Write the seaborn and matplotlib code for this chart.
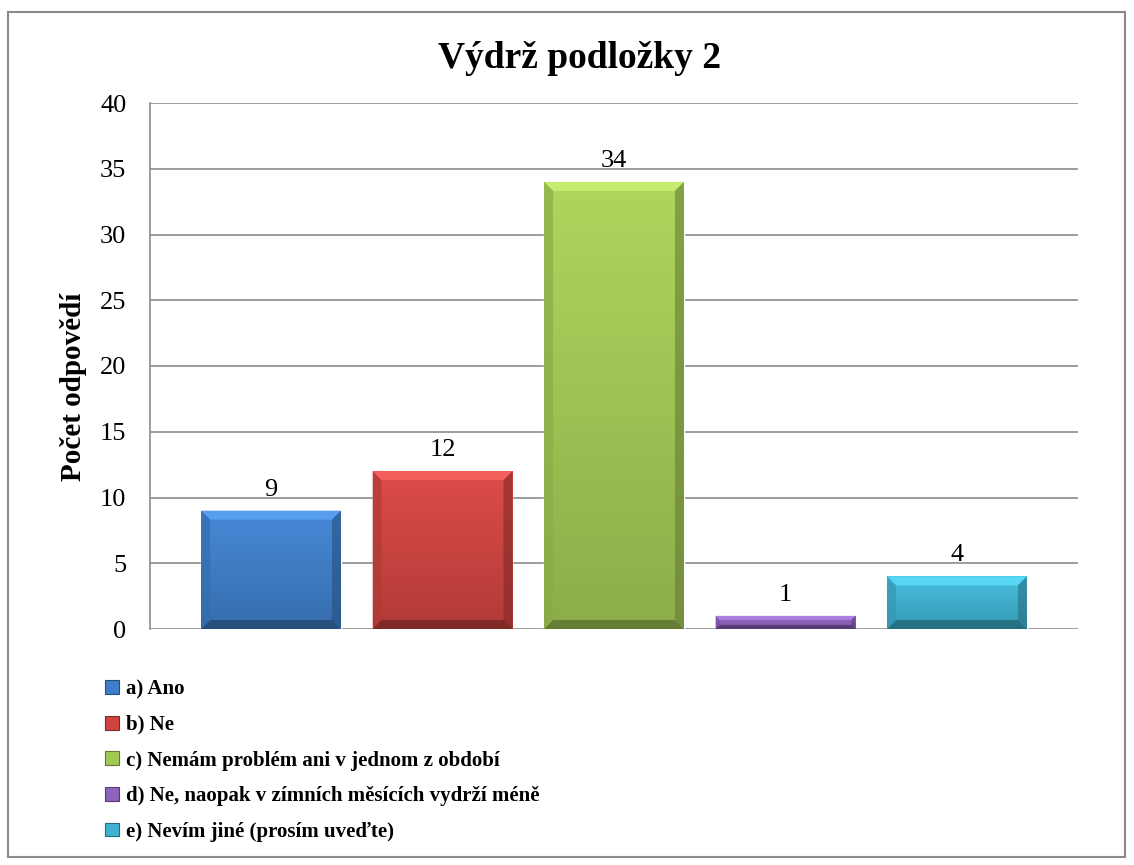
import numpy as np
import pandas as pd
import matplotlib
matplotlib.use("Agg")
import matplotlib.pyplot as plt
from matplotlib.patches import Polygon, Rectangle, Patch
import matplotlib.colors as mcolors
import seaborn as sns

# Survey answers and counts
categories = [
    "a) Ano",
    "b) Ne",
    "c) Nemám problém ani v jednom z období",
    "d) Ne, naopak v zímních měsících vydrží méně",
    "e) Nevím jiné (prosím uveďte)",
]
counts = [9, 12, 34, 1, 4]
colors = ["#3F7FCA", "#CF4441", "#A3C955", "#8E63BE", "#3FB3D1"]
yticks = [0, 5, 10, 15, 20, 25, 30, 35, 40]

title = "Výdrž podložky 2"
ylabel = "Počet odpovědí"

sns.set_theme(style="white")
plt.rcParams["font.family"] = ["Liberation Serif", "DejaVu Serif"]
plt.rcParams["text.color"] = "black"
plt.rcParams["axes.labelcolor"] = "black"
plt.rcParams["ytick.color"] = "black"

df = pd.DataFrame({"cat": categories, "n": counts})

fig = plt.figure(figsize=(11.34, 8.65), dpi=100)
ax = fig.add_axes([150 / 1134, 236 / 865, 928 / 1134, 526 / 865])

sns.barplot(data=df, x="cat", y="n", hue="cat", palette=colors,
            width=0.816, legend=False, ax=ax, saturation=1)

ax.set_xlim(-0.706, 4.706)
ax.set_ylim(0, 40)
ax.set_yticks(yticks)
ax.set_yticklabels([str(t) for t in yticks], fontsize=19, color="black")
ax.set_xticks([])
ax.set_xlabel("")
ax.set_ylabel(ylabel, fontsize=21, fontweight="bold")
ax.yaxis.set_label_coords(-0.068, 0.46)
ax.tick_params(axis="y", length=0, pad=17)

ax.yaxis.grid(True, color="#8c8c8c", linewidth=1.2)
ax.set_axisbelow(True)
for side in ["top", "right", "bottom"]:
    ax.spines[side].set_visible(False)
ax.spines["left"].set_color("#8c8c8c")
ax.spines["left"].set_linewidth(1.2)

fig.canvas.draw()

# Beveled shading on each bar, sized in pixels
px_x = 1.0 / (ax.transData.transform((1, 0))[0] - ax.transData.transform((0, 0))[0])
px_y = 1.0 / (ax.transData.transform((0, 1))[1] - ax.transData.transform((0, 0))[1])

for p, col in zip(ax.patches, colors):
    x0, w, h = p.get_x(), p.get_width(), p.get_height()
    x1, y0, y1 = x0 + w, 0, h
    h_px = h / px_y
    b = min(9.0, 0.3 * h_px)
    bx, by = b * px_x, b * px_y
    # vertical gradient
    base = np.array(mcolors.to_rgb(col))
    grad = np.linspace(0, 1, 64)[:, None]
    top_c = np.clip(base * 1.04 + 0.02, 0, 1)
    bot_c = base * 0.86
    img = top_c[None, None, :] * (1 - grad[:, :, None]) + bot_c[None, None, :] * grad[:, :, None]
    im = ax.imshow(img, extent=(x0, x1, y0, y1), aspect="auto", origin="upper", zorder=2.1)
    im.set_clip_path(p)
    light = np.clip(base * 1.08 + 0.08, 0, 1)
    dark = base * 0.62
    side = base * 0.85
    ax.add_patch(Polygon([(x0, y1), (x1, y1), (x1 - bx, y1 - by), (x0 + bx, y1 - by)],
                         closed=True, facecolor=light, edgecolor="none", zorder=2.2))
    ax.add_patch(Polygon([(x0, y0), (x1, y0), (x1 - bx, y0 + by), (x0 + bx, y0 + by)],
                         closed=True, facecolor=dark, edgecolor="none", zorder=2.2))
    ax.add_patch(Polygon([(x0, y0), (x0, y1), (x0 + bx, y1 - by), (x0 + bx, y0 + by)],
                         closed=True, facecolor=side, edgecolor="none", zorder=2.2, alpha=0.7))
    ax.add_patch(Polygon([(x1, y0), (x1, y1), (x1 - bx, y1 - by), (x1 - bx, y0 + by)],
                         closed=True, facecolor=dark, edgecolor="none", zorder=2.2, alpha=0.6))
    ax.text(x0 + w / 2, h + 10 * px_y, str(int(round(h))), ha="center", va="bottom",
            fontsize=19, color="black", zorder=3)

# Title
fig.text(580 / 1134, 1 - 59 / 865, title, ha="center", va="center",
         fontsize=27, fontweight="bold")

# Legend below the plot
handles = [Patch(facecolor=c, edgecolor=mcolors.to_hex(np.array(mcolors.to_rgb(c)) * 0.6),
                 linewidth=0.8) for c in colors]
leg = fig.legend(handles, categories, loc="upper left",
                 bbox_to_anchor=(97 / 1134, 1 - 671 / 865),
                 frameon=False, fontsize=15, handlelength=0.65, handleheight=0.65,
                 handletextpad=0.35, labelspacing=0.75, borderaxespad=0)
for t in leg.get_texts():
    t.set_fontweight("bold")

# Outer chart frame
fig.patches.append(Rectangle((8 / 1134, 8 / 865), 1117 / 1134, 845 / 865,
                             transform=fig.transFigure, fill=False,
                             edgecolor="#8a8a8a", linewidth=1.5))

fig.savefig("out.png", dpi=100, facecolor="white")
